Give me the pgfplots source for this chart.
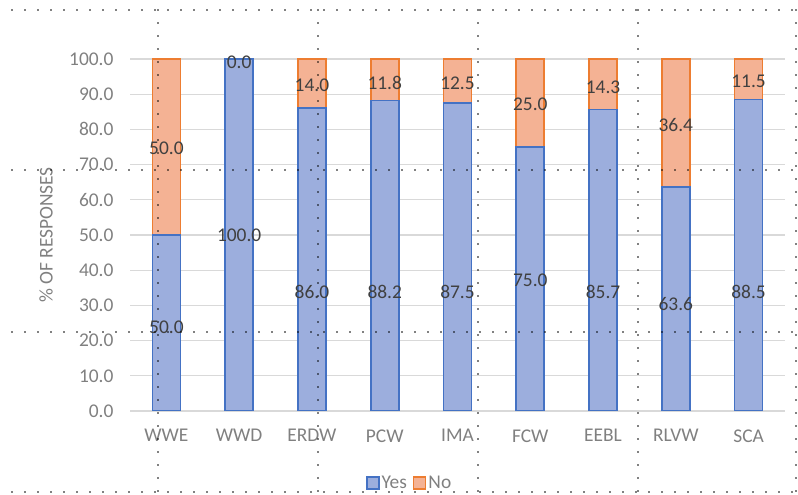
\documentclass[border=0pt]{standalone}
\usepackage{pgfplots}
\pgfplotsset{compat=1.18}
\usepackage{fontspec}
\setmainfont{Carlito}
\definecolor{yesfill}{HTML}{9CAEDD}
\definecolor{yesline}{HTML}{4472C4}
\definecolor{nofill}{HTML}{F4B294}
\definecolor{noline}{HTML}{ED7D31}
\definecolor{tickc}{HTML}{808080}
\definecolor{labc}{HTML}{404040}
\definecolor{gridc}{HTML}{D9D9D9}
\begin{document}
\begin{tikzpicture}
\useasboundingbox (0bp,0bp) rectangle (798bp,495bp);
\begin{axis}[
  at={(130bp,84bp)}, anchor=south west,
  scale only axis, width=655bp, height=352bp,
  ybar stacked, bar width=28bp,
  xmin=-0.5, xmax=8.5, ymin=0, ymax=100,
  xtick={0,...,8},
  xticklabels={WWE,WWD,ERDW,PCW,IMA,FCW,EEBL,RLVW,SCA},
  ytick={0,10,...,100},
  yticklabel style={/pgf/number format/fixed, /pgf/number format/fixed zerofill, /pgf/number format/precision=1, /pgf/number format/assume math mode=true, xshift=-13bp},
  xticklabel style={yshift=-15bp},
  ymajorgrids, major grid style={color=gridc, line width=1.2bp},
  axis line style={draw=none},
  tick style={draw=none},
  font=\fontsize{19.5}{22}\selectfont,
  tick label style={text=tickc},
  ylabel={\% OF RESPONSES},
  ylabel style={text=tickc, at={(axis description cs:-0.128,0.5)}, anchor=center},
  legend style={at={(axis description cs:0.427,-0.205)}, anchor=center, draw=none, fill=none,
    legend columns=2, text=tickc, font=\fontsize{19.5}{22}\selectfont,
    /tikz/every even column/.append style={column sep=4bp}},
  legend image code/.code={\draw[#1, line width=1.5bp] (0bp,-6bp) rectangle (12bp,6bp);},
]
\addplot[fill=yesfill, draw=yesline, line width=1.6bp] coordinates {
 (0,50.0) (1,100.0) (2,86.0) (3,88.2) (4,87.5) (5,75.0) (6,85.7) (7,63.6) (8,88.5)};
\addplot[fill=nofill, draw=noline, line width=1.6bp] coordinates {
 (0,50.0) (1,0.0) (2,14.0) (3,11.8) (4,12.5) (5,25.0) (6,14.3) (7,36.4) (8,11.5)};
\legend{Yes,No}
\end{axis}
\begin{axis}[
  at={(130bp,84bp)}, anchor=south west,
  scale only axis, width=655bp, height=352bp,
  xmin=-0.5, xmax=8.5, ymin=0, ymax=100,
  hide axis, clip=false,
  nodes near coords, point meta=explicit symbolic,
  every node near coord/.append style={anchor=center, text=labc, font=\fontsize{19.5}{22}\selectfont},
]
\addplot[only marks, mark=none] table[meta=lab] {
x y lab
0 23.9 50.0
1 50.0 100.0
2 33.8 86.0
3 33.8 88.2
4 33.8 87.5
5 37.2 75.0
6 33.8 85.7
7 30.4 63.6
8 33.8 88.5
};
\addplot[only marks, mark=none] table[meta=lab] {
x y lab
0 74.7 50.0
1 99.1 0.0
2 92.6 14.0
3 93.2 11.8
4 93.2 12.5
5 87.2 25.0
6 92.0 14.3
7 81.2 36.4
8 93.7 11.5
};
\end{axis}
\tikzset{dotl/.style={draw=black, line width=1.7bp, line cap=round, dash pattern=on 0bp off 13bp}}
\foreach \yy in {485,325,163,3} {\draw[dotl] (12bp,\yy bp) -- (798bp,\yy bp);}
\foreach \xx in {158,318,478,638,796} {\draw[dotl] (\xx bp,485bp) -- (\xx bp,3bp);}
\end{tikzpicture}
\end{document}
